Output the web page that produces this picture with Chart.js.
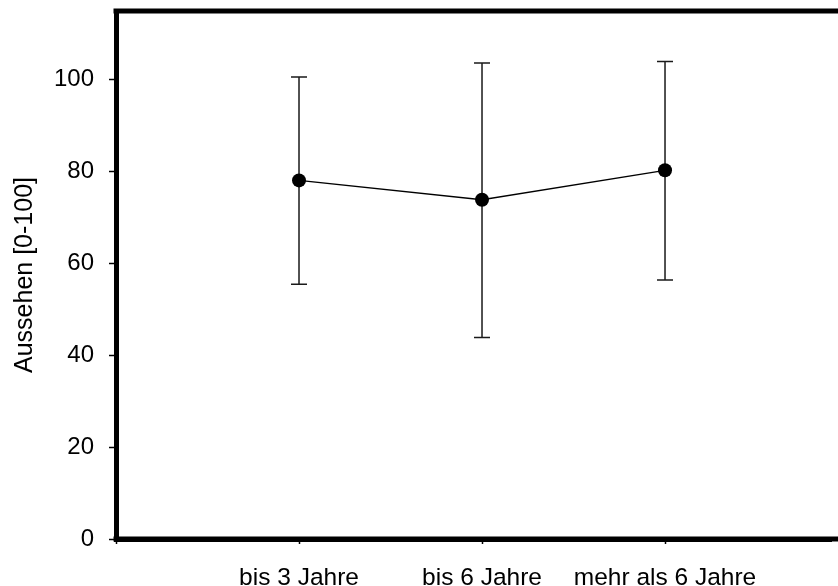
<!DOCTYPE html>
<html>
<head>
<meta charset="utf-8">
<script src="https://cdn.jsdelivr.net/npm/chart.js@4/dist/chart.umd.min.js"></script>
<style>
  html, body { margin: 0; padding: 0; background: #fff; overflow: hidden; }
  #wrap { width: 838px; height: 586px; position: relative; }
</style>
</head>
<body>
<div id="wrap"><canvas id="c"></canvas></div>
<script>
// ---- data ----
const categories = ['bis 3 Jahre', 'bis 6 Jahre', 'mehr als 6 Jahre'];
const positions = [1, 2, 3];
const means = [78.1, 73.9, 80.3];
const lowerBounds = [55.5, 43.9, 56.4];
const upperBounds = [100.6, 103.7, 104.0];
const yTicks = [0, 20, 40, 60, 80, 100];
const xTicks = [0, 1, 2, 3];
const yTitle = 'Aussehen [0-100]';

const FONT = "'Liberation Sans', Arial, Helvetica, sans-serif";

const errorBars = {
  id: 'errorBars',
  beforeDatasetsDraw(chart) {
    const { ctx, scales: { x, y } } = chart;
    ctx.save();
    ctx.strokeStyle = '#1a1a1a';
    ctx.lineWidth = 1.5;
    positions.forEach((p, i) => {
      const px = x.getPixelForValue(p);
      const yl = y.getPixelForValue(lowerBounds[i]);
      const yh = y.getPixelForValue(upperBounds[i]);
      ctx.beginPath();
      ctx.moveTo(px, yl); ctx.lineTo(px, yh);
      ctx.moveTo(px - 8, yl); ctx.lineTo(px + 8, yl);
      ctx.moveTo(px - 8, yh); ctx.lineTo(px + 8, yh);
      ctx.stroke();
    });
    ctx.restore();
  }
};

// top and bottom frame lines continue to the right edge (the box is cut off there)
const frame = {
  id: 'frame',
  afterDraw(chart) {
    const { ctx, chartArea } = chart;
    ctx.save();
    ctx.strokeStyle = '#000';
    ctx.lineWidth = 5;
    ctx.beginPath();
    ctx.moveTo(chartArea.left - 2.5, chartArea.top);
    ctx.lineTo(chart.width, chartArea.top);
    ctx.moveTo(chartArea.left - 2.5, chartArea.bottom);
    ctx.lineTo(chart.width, chartArea.bottom);
    ctx.stroke();
    ctx.restore();
  }
};

new Chart(document.getElementById('c'), {
  type: 'line',
  data: {
    datasets: [{
      data: positions.map((p, i) => ({ x: p, y: means[i] })),
      borderColor: '#000',
      borderWidth: 1.4,
      backgroundColor: '#000',
      pointBackgroundColor: '#000',
      pointBorderColor: '#000',
      pointRadius: 7,
      pointBorderWidth: 0,
      tension: 0,
      fill: false
    }]
  },
  options: {
    responsive: true,
    maintainAspectRatio: false,
    animation: false,
    events: [],
    layout: { padding: { top: 11, right: 0, left: 0, bottom: 0 } },
    plugins: { legend: { display: false }, tooltip: { enabled: false } },
    scales: {
      x: {
        type: 'linear',
        min: 0,
        max: 3.907,
        afterFit(s) { s.height = 47; s.paddingLeft = 0; s.paddingRight = 0; },
        afterBuildTicks(s) { s.ticks = xTicks.map(v => ({ value: v })); },
        border: { display: true, color: '#000', width: 5 },
        grid: { drawOnChartArea: false, drawTicks: true, tickLength: 5, tickWidth: 1.5, tickColor: '#000' },
        ticks: {
          autoSkip: false,
          maxRotation: 0,
          padding: 20,
          color: '#000',
          font: { family: FONT, size: 24.5 },
          callback: (v) => { const i = positions.indexOf(v); return i >= 0 ? categories[i] : ''; }
        }
      },
      y: {
        type: 'linear',
        min: 0,
        max: 115,
        afterFit(s) { s.width = 116; s.paddingTop = 0; s.paddingBottom = 0; },
        afterBuildTicks(s) { s.ticks = yTicks.map(v => ({ value: v })); },
        border: { display: true, color: '#000', width: 5 },
        grid: { drawOnChartArea: false, drawTicks: true, tickLength: 7, tickWidth: 1.5, tickColor: '#000' },
        ticks: {
          padding: 15,
          color: '#000',
          font: { family: FONT, size: 24 },
          callback: (v) => String(v)
        },
        title: {
          display: true,
          text: yTitle,
          color: '#000',
          font: { family: FONT, size: 25 },
          padding: { top: 10, bottom: 0 }
        }
      }
    }
  },
  plugins: [errorBars, frame]
});
</script>
</body>
</html>
